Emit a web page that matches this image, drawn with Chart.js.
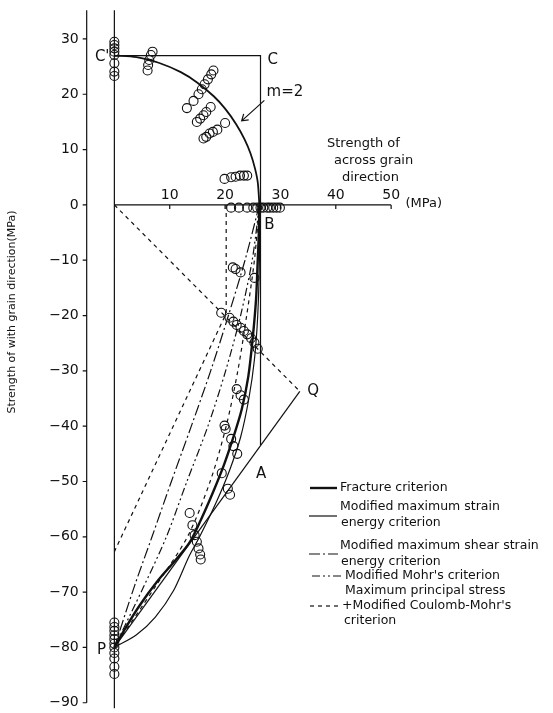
<!DOCTYPE html>
<html>
<head>
<meta charset="utf-8">
<script src="https://cdn.jsdelivr.net/npm/chart.js@4.4.1/dist/chart.umd.min.js"></script>
<style>
    html, body { margin: 0; padding: 0; background: #fff; }
    #wrap { width: 553px; height: 713px; }
</style>
</head>
<body>
<div id="wrap"><canvas id="strengthChart" width="553" height="713"></canvas></div>
<script>
// all values in MPa
const yTickValues = [30, 20, 10, 0, -10, -20, -30, -40, -50, -60, -70, -80, -90];
const xTickValues = [10, 20, 30, 40, 50];

// test results: across grain (x) / with grain (y)
const testX = [
    0, 0, 0, 0, 0, 0, 0, 0,
    6.9, 6.6, 6.3, 6.1, 6.0,
    13.1, 14.3, 15.2, 15.8, 16.3, 16.9, 17.5, 17.9,
    14.9, 15.5, 16.1, 16.6, 17.4,
    16.1, 16.6, 17.2, 17.8, 18.6,
    20.0,
    19.9, 21.1, 21.9, 22.7, 23.4, 24.0,
    21.1, 22.5, 24.0, 25.1, 25.8, 26.4, 26.9, 27.6, 28.1, 28.7, 29.3, 29.9,
    21.4, 21.9, 22.8, 25.3,
    19.3, 20.8, 21.5, 22.1, 22.8, 23.4, 24.0, 24.7, 25.3, 25.9,
    22.1, 22.8, 23.4,
    19.9, 20.1, 21.1, 21.5, 22.2,
    19.4, 20.5, 20.9,
    13.6, 14.1, 14.5, 14.9, 15.2, 15.5, 15.6,
    0, 0, 0, 0, 0, 0, 0, 0, 0, 0, 0
];
const testY = [
    29.5, 28.9, 28.3, 27.7, 27.1, 25.6, 24.1, 23.3,
    27.7, 27.1, 26.2, 25.3, 24.3,
    17.5, 18.8, 20.0, 20.9, 21.8, 22.7, 23.6, 24.3,
    15.0, 15.6, 16.2, 16.8, 17.7,
    12.0, 12.3, 12.9, 13.2, 13.6,
    14.8,
    4.7, 5.0, 5.1, 5.3, 5.3, 5.3,
    -0.5, -0.5, -0.5, -0.5, -0.5, -0.5, -0.5, -0.5, -0.5, -0.5, -0.5, -0.5,
    -11.3, -11.6, -12.2, -13.2,
    -19.5, -20.4, -21.1, -21.7, -22.2, -22.8, -23.4, -24.1, -24.9, -26.0,
    -33.3, -34.4, -35.2,
    -39.9, -40.5, -42.3, -43.6, -45.0,
    -48.5, -51.3, -52.4,
    -55.7, -57.9, -59.7, -60.9, -62.1, -63.2, -64.1,
    -75.5, -76.3, -77.0, -77.8, -78.5, -79.3, -80.0, -81.0, -82.0, -83.5, -84.8
];

// fracture criterion (m=2), tension side C' -> B
const fracTopX = [0, 4, 8, 12, 15, 18, 20, 22, 23.5, 24.6, 25.4, 25.9, 26.2];
const fracTopY = [27, 26.7, 25.7, 24.0, 22.1, 19.6, 17.4, 14.6, 11.9, 9.3, 6.6, 4.1, 0];
// fracture criterion, compression side B -> P
const fracX = [26.2, 26.1, 25.9, 25.6, 25.0, 24.2, 23.0, 21.5, 19.8, 17.8, 15.6, 13.6, 10.8, 7.8, 4.5, 2.0, 0];
const fracY = [0, -5, -10, -17, -24, -31, -37, -42, -47, -52, -57, -61, -64.5, -68, -72.5, -76.5, -80];
// modified maximum strain energy criterion
const strainX = [26.2, 26.2, 25.9, 25.3, 24.3, 22.8, 20.8, 18.3, 15.4, 13.5, 10.7, 7.4, 4.0, 0];
const strainY = [0, -10, -20, -28, -35, -42, -48, -54, -60, -63.5, -69.7, -74.5, -77.7, -80];
// modified maximum shear strain energy criterion
const shearX = [26.2, 23.6, 20.6, 17.4, 13.9, 10.3, 6.8, 3.6, 0];
const shearY = [0, -10, -20, -30, -40, -50, -60, -69, -80];
// modified Mohr's criterion
const mohrX = [26.2, 24.9, 22.8, 20.1, 16.9, 13.1, 9.4, 5.3, 0];
const mohrY = [0, -10, -20, -30, -40, -50, -60, -69, -80];
// maximum principal stress + modified Coulomb-Mohr's
const coulombX = [26.2, 25.3, 23.9, 22.3, 20.2, 17.3, 13.2, 7.4, 0];
const coulombY = [0, -10, -20, -30, -40, -50, -60, -69, -80];
const mpsX = [20.2, 20.2, 0];
const mpsY = [0, -19.6, -62.7];
const diagX = [0, 33.5];
const diagY = [0, -33.7];

// construction lines C'-C-A and P-Q
const boxX = [0, 26.4, 26.4];
const boxY = [27, 27, -43.4];
const pqX = [0, 33.5];
const pqY = [-80, -33.7];

const ink = '#111';
const font = '"DejaVu Sans", sans-serif';

const pairs = (xs, ys) => xs.map((x, i) => ({ x: x, y: ys[i] }));

const lineSet = (xs, ys, width, dash, tension) => ({
    type: 'scatter',
    data: pairs(xs, ys),
    showLine: true,
    borderColor: ink,
    borderWidth: width,
    borderDash: dash,
    tension: tension,
    pointRadius: 0,
    fill: false
});

const figurePlugin = {
    id: 'figure',
    beforeDatasetsDraw(chart) {
        const ctx = chart.ctx;
        const xs = chart.scales.x;
        const ys = chart.scales.y;
        const px = v => xs.getPixelForValue(v);
        const py = v => ys.getPixelForValue(v);

        ctx.save();
        ctx.strokeStyle = ink;
        ctx.lineWidth = 1.2;

        // left axis at x = -5
        ctx.beginPath();
        ctx.moveTo(px(-5), py(35.2));
        ctx.lineTo(px(-5), py(-90));
        yTickValues.forEach(v => {
            ctx.moveTo(px(-5) - 4, py(v));
            ctx.lineTo(px(-5), py(v));
        });
        // x = 0 line
        ctx.moveTo(px(0), py(35.2));
        ctx.lineTo(px(0), py(-91));
        // across grain axis
        ctx.moveTo(px(0), py(0));
        ctx.lineTo(px(50), py(0));
        xTickValues.forEach(v => {
            ctx.moveTo(px(v), py(0));
            ctx.lineTo(px(v), py(0) + 4);
        });
        ctx.stroke();

        ctx.fillStyle = ink;
        ctx.font = '14px ' + font;
        ctx.textAlign = 'right';
        ctx.textBaseline = 'middle';
        yTickValues.forEach(v => {
            ctx.fillText(v < 0 ? '\u2212' + Math.abs(v) : String(v), px(-5) - 8, py(v));
        });
        ctx.textAlign = 'center';
        xTickValues.forEach(v => {
            ctx.fillText(String(v), px(v), py(0) - 10);
        });
        ctx.restore();
    },
    afterDatasetsDraw(chart) {
        const ctx = chart.ctx;
        const xs = chart.scales.x;
        const ys = chart.scales.y;
        const px = v => xs.getPixelForValue(v);
        const py = v => ys.getPixelForValue(v);

        ctx.save();
        ctx.fillStyle = ink;
        ctx.strokeStyle = ink;
        ctx.textBaseline = 'middle';

        // point labels
        ctx.font = '15px ' + font;
        ctx.textAlign = 'center';
        ctx.fillText("C'", px(-2.2), py(26.8));
        ctx.fillText('C', px(28.6), py(26.2));
        ctx.fillText('B', px(28.0), py(-3.6));
        ctx.fillText('Q', px(35.9), py(-33.7));
        ctx.fillText('A', px(26.5), py(-48.6));
        ctx.fillText('P', px(-2.3), py(-80.4));

        ctx.font = '15px ' + font;
        ctx.textAlign = 'left';
        ctx.fillText('m=2', px(27.5), py(20.4));

        // arrow to the m=2 curve
        const hx = px(23.0), hy = py(15.2);
        ctx.lineWidth = 1.2;
        ctx.beginPath();
        ctx.moveTo(px(27.1), py(18.9));
        ctx.lineTo(hx, hy);
        ctx.moveTo(hx + 7, hy - 1);
        ctx.lineTo(hx, hy);
        ctx.lineTo(hx + 2, hy - 7);
        ctx.stroke();

        // across grain axis title and unit
        ctx.font = '13px ' + font;
        ctx.fillText('Strength of', 327, 144);
        ctx.fillText('across grain', 334, 161);
        ctx.fillText('direction', 342, 178);
        ctx.fillText('(MPa)', px(52.6), py(0) - 1);

        // with grain axis title
        ctx.save();
        ctx.translate(12, 312);
        ctx.rotate(-Math.PI / 2);
        ctx.textAlign = 'center';
        ctx.font = '11px ' + font;
        ctx.fillText('Strength of with grain direction(MPa)', 0, 0);
        ctx.restore();

        // legend
        const sets = chart.data.datasets;
        const legend = [
            { ds: 2, sample: [310, 337, 488], lines: [[340, 488, 'Fracture criterion']] },
            { ds: 3, sample: [309, 337, 516], lines: [[340, 507, 'Modified maximum strain'], [341, 523, 'energy criterion']] },
            { ds: 4, sample: [309, 338, 554], lines: [[340, 546, 'Modified maximum shear strain'], [341, 562, 'energy criterion']] },
            { ds: 5, sample: [312, 341, 576], lines: [[345, 576, "Modified Mohr's criterion"]] },
            { ds: 6, sample: [310, 340, 606], lines: [[345, 591, 'Maximum principal stress'], [342, 606, "+Modified Coulomb-Mohr's"], [344, 621, 'criterion']] }
        ];
        ctx.font = '12.5px ' + font;
        legend.forEach(item => {
            const ds = sets[item.ds];
            ctx.save();
            ctx.lineWidth = ds.borderWidth;
            ctx.setLineDash(ds.borderDash || []);
            ctx.beginPath();
            ctx.moveTo(item.sample[0], item.sample[2]);
            ctx.lineTo(item.sample[1], item.sample[2]);
            ctx.stroke();
            ctx.restore();
            item.lines.forEach(l => ctx.fillText(l[2], l[0], l[1]));
        });
        ctx.restore();
    }
};

document.addEventListener('DOMContentLoaded', () => {
    const canvas = document.getElementById('strengthChart');
    const ctx = canvas.getContext('2d');

    new Chart(ctx, {
        type: 'scatter',
        data: {
            datasets: [
                lineSet(boxX, boxY, 1.2, [], 0),
                lineSet(pqX, pqY, 1.2, [], 0),
                lineSet(fracX, fracY, 2.4, [], 0.3),
                lineSet(strainX, strainY, 1.2, [], 0.3),
                lineSet(shearX, shearY, 1.2, [11, 3, 2, 3], 0.3),
                lineSet(mohrX, mohrY, 1.2, [8, 3, 2, 3, 2, 3], 0.3),
                lineSet(coulombX, coulombY, 1.2, [4, 4], 0.3),
                lineSet(mpsX, mpsY, 1.2, [4, 4], 0),
                lineSet(diagX, diagY, 1.2, [4, 4], 0),
                lineSet(fracTopX, fracTopY, 1.8, [], 0.3),
                {
                    type: 'scatter',
                    data: pairs(testX, testY),
                    pointStyle: 'circle',
                    pointRadius: 4.5,
                    pointBorderWidth: 1.1,
                    pointBorderColor: ink,
                    pointBackgroundColor: 'rgba(255,255,255,0)'
                }
            ]
        },
        options: {
            responsive: false,
            animation: false,
            layout: { padding: 0 },
            plugins: {
                legend: { display: false },
                tooltip: { enabled: false }
            },
            scales: {
                x: { type: 'linear', min: -19.65, max: 78.23, display: false },
                y: { type: 'linear', min: -90.84, max: 36.03, display: false }
            }
        },
        plugins: [figurePlugin]
    });
});
</script>
</body>
</html>
